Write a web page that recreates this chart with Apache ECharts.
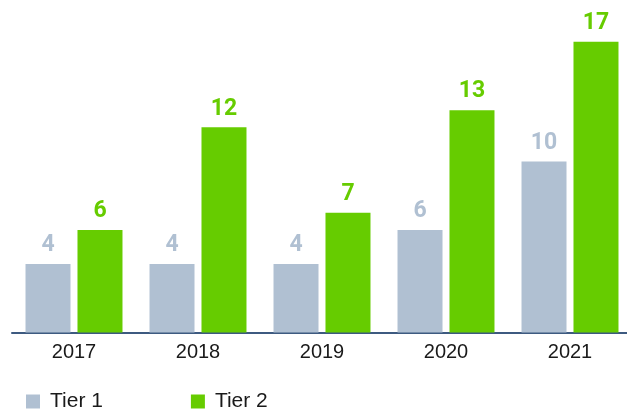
<!DOCTYPE html>
<html>
<head>
<meta charset="utf-8">
<script src="https://cdn.jsdelivr.net/npm/echarts@6/dist/echarts.min.js"></script>
<style>
  html, body { margin: 0; padding: 0; background: #fff; }
  #chart { width: 627px; height: 411px; }
</style>
</head>
<body>
<div id="chart"></div>
<script>
const years = ["2017", "2018", "2019", "2020", "2021"];
const tier1 = [4, 4, 4, 6, 10];
const tier2 = [6, 12, 7, 13, 17];

const grey = "#b0c0d2";
const green = "#66cc00";

const chart = echarts.init(document.querySelector("#chart"));

const valueLabel = (color) => ({
  show: true,
  position: "top",
  distance: 7,
  color: color,
  fontFamily: "Roboto",
  fontWeight: "bold",
  fontSize: 23,
});

chart.setOption({
  animation: false,
  grid: {
    left: 12,
    right: -5,
    top: 41.8,
    bottom: 78.5,
    containLabel: false,
    outerBoundsMode: "none",
  },
  legend: {
    left: 21,
    top: 386,
    itemWidth: 14,
    itemHeight: 14,
    itemGap: 88,
    icon: "rect",
    textStyle: {
      fontFamily: "Liberation Sans",
      fontSize: 21,
      color: "#1a1a1a",
      padding: [0, 0, 0, 5],
    },
    data: ["Tier 1", "Tier 2"],
  },
  xAxis: {
    type: "category",
    data: years,
    axisLine: { lineStyle: { color: "#3d5a80", width: 2 } },
    axisTick: { show: false },
    axisLabel: {
      margin: 10,
      fontFamily: "Liberation Sans",
      fontSize: 20,
      color: "#1a1a1a",
    },
  },
  yAxis: {
    type: "value",
    min: 0,
    max: 17,
    show: false,
    splitLine: { show: false },
  },
  series: [
    {
      name: "Tier 1",
      type: "bar",
      data: tier1,
      barWidth: 45,
      barGap: "15.5%",
      itemStyle: { color: grey },
      label: valueLabel(grey),
    },
    {
      name: "Tier 2",
      type: "bar",
      data: tier2,
      barWidth: 45,
      itemStyle: { color: green },
      label: valueLabel(green),
    },
  ],
});
</script>
</body>
</html>
